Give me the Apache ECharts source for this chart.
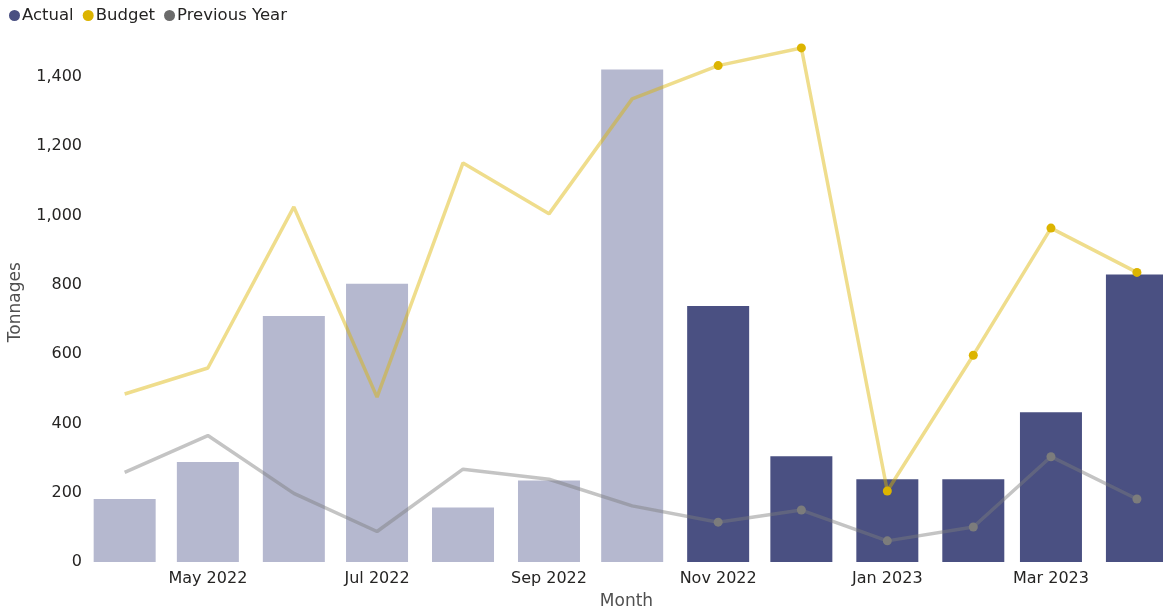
<!DOCTYPE html>
<html>
<head>
<meta charset="utf-8">
<script src="https://cdn.jsdelivr.net/npm/echarts@6/dist/echarts.min.js"></script>
<style>
  html, body { margin: 0; padding: 0; background: #ffffff; }
  #chart { width: 1163px; height: 614px; }
</style>
</head>
<body>
<div id="chart"></div>
<script>
// Monthly tonnages, April 2022 to April 2023
const months = ['2022-04', '2022-05', '2022-06', '2022-07', '2022-08', '2022-09', '2022-10',
                '2022-11', '2022-12', '2023-01', '2023-02', '2023-03', '2023-04'];
const actual = [182, 289, 710, 803, 157, 235, 1422, 739, 305, 239, 239, 432, 830];
const budget = [485, 560, 1025, 476, 1152, 1005, 1337, 1433, 1484, 205, 597, 964, 836];
const previousYear = [259, 365, 198, 88, 268, 239, 162, 115, 150, 61, 101, 304, 182];
// Month starts that carry an axis label
const labelMonths = ['2022-05', '2022-07', '2022-09', '2022-11', '2023-01', '2023-03'];
const monthNames = ['Jan', 'Feb', 'Mar', 'Apr', 'May', 'Jun', 'Jul', 'Aug', 'Sep', 'Oct', 'Nov', 'Dec'];
// First month of the current period (drawn in full colour)
const currentFrom = '2022-11';

const toTime = s => { const [y, m] = s.split('-').map(Number); return new Date(y, m - 1, 1).getTime(); };
const DAY = 86400000;
const times = months.map(toTime);
const labelTimes = labelMonths.map(toTime);
const currentIdx = months.indexOf(currentFrom);

const DARK = '#4a5082';
const LIGHT = '#b5b8cf';
const GOLD = '#dcb400';
const GREY = '#7c7c7c';
const FONT = 'DejaVu Sans';

// Plot area and bar size
const GRID_LEFT = 90, GRID_RIGHT = 0, CHART_W = 1163;
const BAR_W = 62;
const gridW = CHART_W - GRID_LEFT - GRID_RIGHT;

// Visible time window: a little padding before the first month, the last bar runs off the edge
const viewStart = times[0] - 12.5 * DAY;
const viewEnd = times[times.length - 1] + 9.4 * DAY;
// ECharts widens a bar axis by the bar width; pre-shrink so the final window is the one above
const shrink = (viewEnd - viewStart) * (BAR_W / gridW) / 2;

const chart = echarts.init(document.getElementById('chart'), null, { renderer: 'canvas' });
chart.setOption({
  animation: false,
  backgroundColor: '#ffffff',
  textStyle: { fontFamily: FONT },
  legend: {
    left: 4, top: 2,
    icon: 'circle', itemWidth: 11, itemHeight: 11, itemGap: 9,
    textStyle: { fontFamily: FONT, fontSize: 16.5, color: '#252423', padding: [0, 0, 0, -3] },
    data: [
      { name: 'Actual', itemStyle: { color: DARK } },
      { name: 'Budget', itemStyle: { color: GOLD } },
      { name: 'Previous Year', itemStyle: { color: '#6b6b6b' } }
    ]
  },
  grid: { left: GRID_LEFT, right: GRID_RIGHT, top: 42.4, bottom: 52, containLabel: false, outerBoundsMode: 'none' },
  xAxis: {
    type: 'time',
    min: viewStart + shrink,
    max: viewEnd - shrink,
    splitNumber: 13,
    name: 'Month', nameLocation: 'middle', nameGap: 31,
    nameTextStyle: { fontFamily: FONT, fontSize: 17, color: '#505050' },
    axisLine: { show: false }, axisTick: { show: false }, splitLine: { show: false },
    axisLabel: {
      showMinLabel: false, showMaxLabel: false, hideOverlap: false,
      fontFamily: FONT, fontSize: 16, color: '#252423', margin: 9,
      formatter: v => {
        if (labelTimes.indexOf(v) < 0) return '';
        const d = new Date(v);
        return monthNames[d.getMonth()] + ' ' + d.getFullYear();
      }
    }
  },
  yAxis: {
    type: 'value', min: 0, max: 1500, interval: 200,
    name: 'Tonnages', nameLocation: 'middle', nameGap: 66,
    nameTextStyle: { fontFamily: FONT, fontSize: 17, color: '#505050' },
    axisLine: { show: false }, axisTick: { show: false }, splitLine: { show: false },
    axisLabel: {
      showMaxLabel: false,
      fontFamily: FONT, fontSize: 16, color: '#252423', margin: 8,
      padding: [4, 0, 0, 0],
      formatter: v => v.toLocaleString('en-US')
    }
  },
  series: [
    {
      name: 'Actual', type: 'bar', barWidth: BAR_W, clip: true,
      data: times.map((t, i) => [t, actual[i]]),
      itemStyle: { color: p => (p.dataIndex >= currentIdx ? DARK : LIGHT) },
      z: 2
    },
    {
      name: 'Budget', type: 'line', showSymbol: true, symbol: 'circle',
      symbolSize: (v, p) => (p.dataIndex >= currentIdx ? 9 : 0),
      data: times.map((t, i) => [t, budget[i]]),
      lineStyle: { color: 'rgba(220,180,0,0.45)', width: 3.5 },
      itemStyle: { color: GOLD, borderWidth: 0 },
      z: 4
    },
    {
      name: 'Previous Year', type: 'line', showSymbol: true, symbol: 'circle',
      symbolSize: (v, p) => (p.dataIndex >= currentIdx ? 9 : 0),
      data: times.map((t, i) => [t, previousYear[i]]),
      lineStyle: { color: 'rgba(124,124,124,0.45)', width: 3.5 },
      itemStyle: { color: GREY, borderWidth: 0 },
      z: 3
    }
  ]
});
</script>
</body>
</html>
